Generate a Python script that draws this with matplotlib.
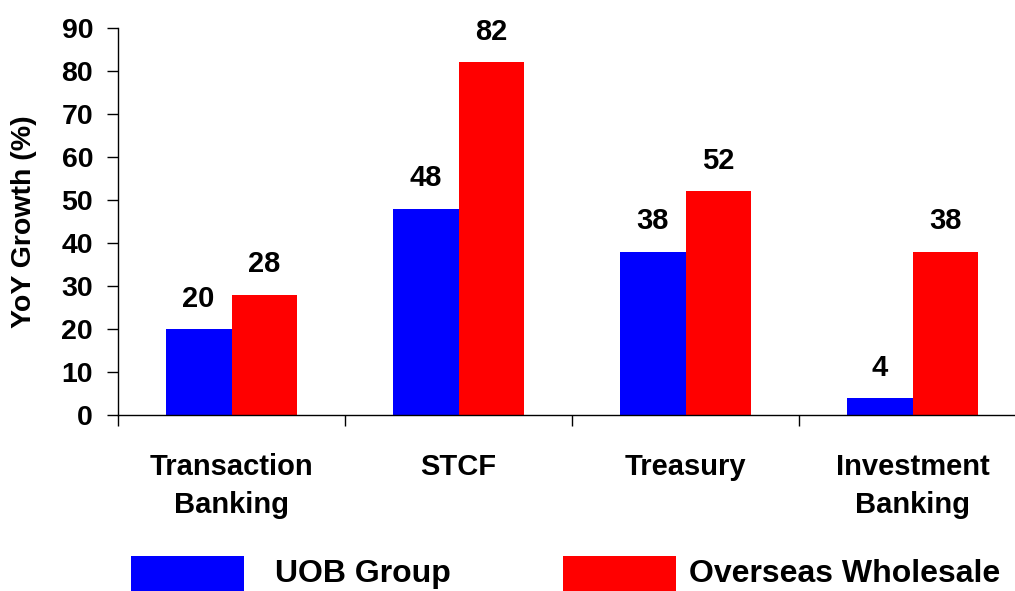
import matplotlib
matplotlib.use('Agg')
import matplotlib.pyplot as plt
from matplotlib.patches import Rectangle

plt.rcParams['font.family'] = ['Liberation Sans', 'DejaVu Sans']
plt.rcParams['font.weight'] = 'bold'

# growth by business line
categories = ['Transaction\nBanking', 'STCF', 'Treasury', 'Investment\nBanking']
uob_group = [20, 48, 38, 4]
overseas = [28, 82, 52, 38]
series_names = ['UOB Group', 'Overseas Wholesale']
colors = ['#0000FF', '#FF0000']

fig = plt.figure(figsize=(10.15, 5.91), dpi=100)
ax = fig.add_axes([0.1163, 0.2978, 0.8946, 0.6548])

x = list(range(len(categories)))
w = 0.29
for vals, off, c in [(uob_group, -w / 2, colors[0]), (overseas, w / 2, colors[1])]:
    bars = ax.bar([i + off for i in x], vals, width=w, color=c, edgecolor='none')
    for b, v in zip(bars, vals):
        ax.annotate(str(v), (b.get_x() + b.get_width() / 2, v),
                    xytext=(0, 16), textcoords='offset points',
                    ha='center', va='baseline', fontsize=21, fontweight='bold')

ax.set_xlim(-0.5, 3.5)
ax.set_ylim(0, 90)
ax.set_yticks(range(0, 91, 10))
ax.tick_params(axis='y', labelsize=20.5, length=8, width=1, pad=10)
for lbl in ax.get_yticklabels():
    lbl.set_fontweight('bold')

# category labels sit between separator ticks
ax.set_xticks(x)
ax.set_xticklabels(categories, fontsize=21, fontweight='bold', linespacing=1.48)
ax.tick_params(axis='x', which='major', length=0, pad=27)
ax.set_xticks([i - 0.5 for i in range(len(categories) + 1)], minor=True)
ax.tick_params(axis='x', which='minor', length=8, width=1, direction='out')

for s in ['top', 'right']:
    ax.spines[s].set_visible(False)
for s in ['left', 'bottom']:
    ax.spines[s].set_linewidth(1)
ax.set_ylabel('YoY Growth (%)', fontsize=20.5, fontweight='bold')
ax.yaxis.set_label_coords(-0.089, 0.5)

# legend drawn along the bottom
for (px, tx), name, c in zip([(0.129, 0.271), (0.555, 0.679)], series_names, colors):
    fig.add_artist(Rectangle((px, 0.0), 0.111, 0.059, transform=fig.transFigure,
                             facecolor=c, edgecolor='none'))
    fig.text(tx, 0.028, name, fontsize=23, fontweight='bold', va='center', ha='left')

fig.savefig('out.png', dpi=100)
